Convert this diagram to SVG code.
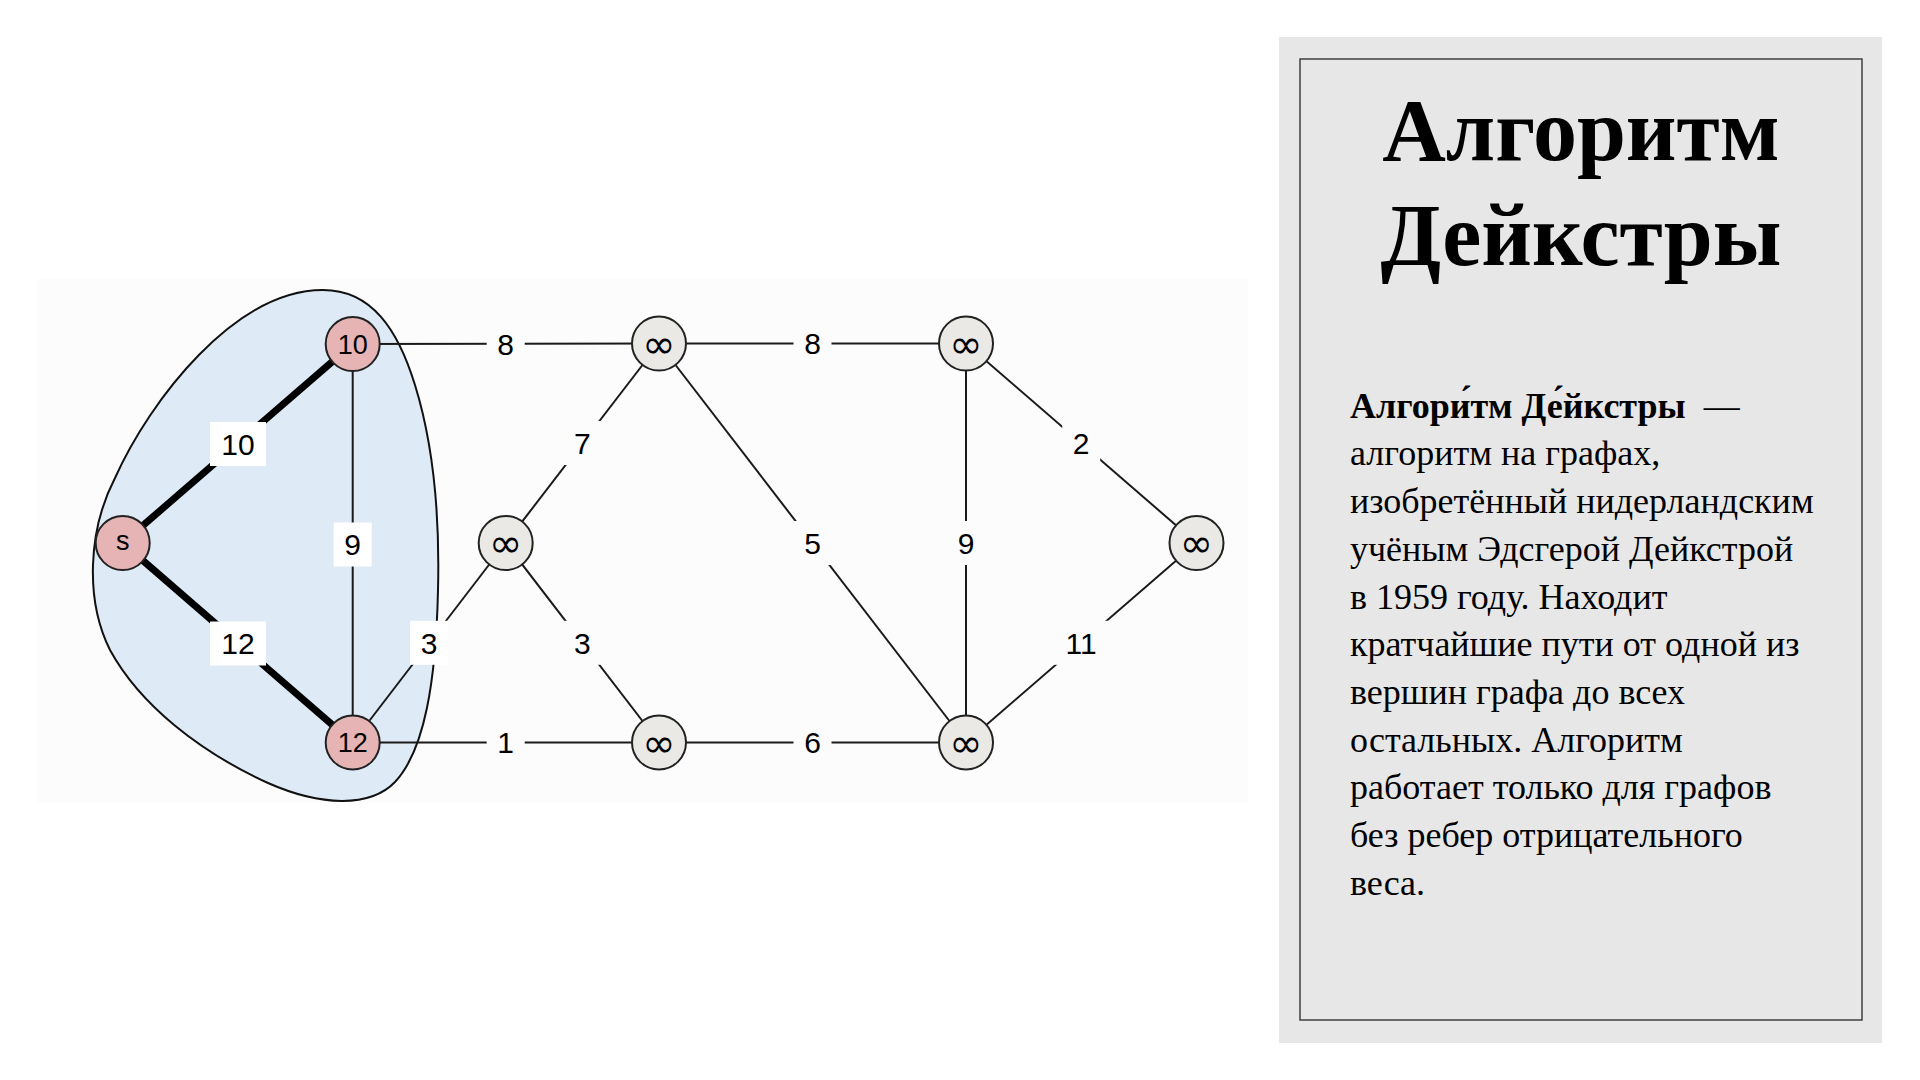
<svg xmlns="http://www.w3.org/2000/svg" width="1920" height="1080" viewBox="0 0 1920 1080">
<style>
.edge{stroke:#1a1a1a;stroke-width:2;fill:none}
.thick{stroke:#000;stroke-width:7;fill:none}
.lbox{fill:#ffffff}
.obox{fill:#fcfcfc}
.lbl{font-family:"Liberation Sans",Arial,sans-serif;font-size:30px;fill:#000;text-anchor:middle}
.nlbl{font-family:"Liberation Sans",Arial,sans-serif;font-size:27px;fill:#000;text-anchor:middle}
.inf{font-family:"DejaVu Sans",sans-serif;font-size:40px;fill:#000;text-anchor:middle}
.pink{fill:#e6b4b4;stroke:#222;stroke-width:2}
.gray{fill:#ebe9e5;stroke:#222;stroke-width:2}
.title{font-family:"Liberation Serif","Times New Roman",serif;font-size:88px;font-weight:bold;fill:#000;text-anchor:middle}
.body{font-family:"Liberation Serif","Times New Roman",serif;font-size:36px;fill:#000}
</style>
<rect x="0" y="0" width="1920" height="1080" fill="#ffffff"/>
<rect x="37" y="279" width="1211" height="523" fill="#fcfcfc"/>
<g id="region">
<path d="M 323,290 C 372,290 398,330 415,385 C 432,440 440,510 438,590 C 436,680 425,750 395,782 C 370,808 320,806 268,783 C 200,752 140,705 110,650 C 85,600 88,530 115,478 C 150,400 235,290 323,290 Z" fill="#deeaf6" stroke="#111" stroke-width="2"/>
</g>
<g id="connectors">
<line class="thick" x1="122.7" y1="543" x2="352.7" y2="344"/>
<line class="thick" x1="122.7" y1="543" x2="352.7" y2="742.5"/>
<line class="edge" x1="352.7" y1="344" x2="352.7" y2="742.5"/>
<line class="edge" x1="352.7" y1="742.5" x2="505.7" y2="543"/>
<line class="edge" x1="352.7" y1="344" x2="659" y2="343.5"/>
<line class="edge" x1="505.7" y1="543" x2="659" y2="343.5"/>
<line class="edge" x1="505.7" y1="543" x2="659" y2="742.5"/>
<line class="edge" x1="352.7" y1="742.5" x2="659" y2="742.5"/>
<line class="edge" x1="659" y1="343.5" x2="966" y2="343.5"/>
<line class="edge" x1="659" y1="343.5" x2="966" y2="742.5"/>
<line class="edge" x1="659" y1="742.5" x2="966" y2="742.5"/>
<line class="edge" x1="966" y1="343.5" x2="966" y2="742.5"/>
<line class="edge" x1="966" y1="343.5" x2="1196.5" y2="543"/>
<line class="edge" x1="966" y1="742.5" x2="1196.5" y2="543"/>
<g id="edge-labels">
<rect class="lbox" x="210" y="422" width="56" height="44"/><text class="lbl" x="238" y="454.7">10</text>
<rect class="lbox" x="210" y="621.5" width="56" height="44"/><text class="lbl" x="238" y="654.2">12</text>
<rect class="lbox" x="333.7" y="522.5" width="38" height="44"/><text class="lbl" x="352.7" y="555.2">9</text>
<rect class="lbox" x="410" y="620.8" width="38" height="44"/><text class="lbl" x="429" y="653.5">3</text>
<rect class="obox" x="486.7" y="322" width="38" height="44"/><text class="lbl" x="505.7" y="354.7">8</text>
<rect class="obox" x="563.4" y="421" width="38" height="44"/><text class="lbl" x="582.4" y="453.7">7</text>
<rect class="obox" x="563.4" y="620.8" width="38" height="44"/><text class="lbl" x="582.4" y="653.5">3</text>
<rect class="obox" x="486.7" y="720.5" width="38" height="44"/><text class="lbl" x="505.7" y="753.2">1</text>
<rect class="obox" x="793.5" y="321.5" width="38" height="44"/><text class="lbl" x="812.5" y="354.2">8</text>
<rect class="obox" x="793.5" y="521" width="38" height="44"/><text class="lbl" x="812.5" y="553.7">5</text>
<rect class="obox" x="793.5" y="720.5" width="38" height="44"/><text class="lbl" x="812.5" y="753.2">6</text>
<rect class="obox" x="947" y="521" width="38" height="44"/><text class="lbl" x="966" y="553.7">9</text>
<rect class="obox" x="1062.2" y="421.3" width="38" height="44"/><text class="lbl" x="1081.2" y="454">2</text>
<rect class="obox" x="1053.2" y="620.8" width="56" height="44"/><text class="lbl" x="1081.2" y="653.5">11</text>
</g>
</g>
<g id="node-s"><circle class="pink" cx="122.7" cy="543" r="27"/><text class="nlbl" x="122.7" y="550">s</text></g>
<g id="node-10"><circle class="pink" cx="352.7" cy="344" r="27"/><text class="nlbl" x="352.7" y="353.7">10</text></g>
<g id="node-12"><circle class="pink" cx="352.7" cy="742.5" r="27"/><text class="nlbl" x="352.7" y="752.2">12</text></g>
<g id="node-a"><circle class="gray" cx="505.7" cy="543" r="27"/><text class="inf" x="505.7" y="557">∞</text></g>
<g id="node-b"><circle class="gray" cx="659" cy="343.5" r="27"/><text class="inf" x="659" y="357.5">∞</text></g>
<g id="node-c"><circle class="gray" cx="659" cy="742.5" r="27"/><text class="inf" x="659" y="756.5">∞</text></g>
<g id="node-d"><circle class="gray" cx="966" cy="343.5" r="27"/><text class="inf" x="966" y="357.5">∞</text></g>
<g id="node-e"><circle class="gray" cx="966" cy="742.5" r="27"/><text class="inf" x="966" y="756.5">∞</text></g>
<g id="node-f"><circle class="gray" cx="1196.5" cy="543" r="27"/><text class="inf" x="1196.5" y="557">∞</text></g>
<g id="panel">
<rect x="1279" y="37" width="603" height="1006" fill="#e7e7e7"/>
<rect x="1300" y="59" width="562" height="961" fill="none" stroke="#404040" stroke-width="1.5"/>
<text class="title" x="1581" y="160">Алгоритм</text>
<text class="title" x="1581" y="265">Дейкстры</text>
<text class="body" x="1350" y="417.7" xml:space="preserve"><tspan font-weight="bold">Алгори́тм Де́йкстры</tspan>  —</text>
<text class="body" x="1350" y="465.4">алгоритм на графах,</text>
<text class="body" x="1350" y="513.1">изобретённый нидерландским</text>
<text class="body" x="1350" y="560.8">учёным Эдсгерой Дейкстрой</text>
<text class="body" x="1350" y="608.5">в 1959 году. Находит</text>
<text class="body" x="1350" y="656.2">кратчайшие пути от одной из</text>
<text class="body" x="1350" y="703.9">вершин графа до всех</text>
<text class="body" x="1350" y="751.6">остальных. Алгоритм</text>
<text class="body" x="1350" y="799.3">работает только для графов</text>
<text class="body" x="1350" y="847">без ребер отрицательного</text>
<text class="body" x="1350" y="894.7">веса.</text>
</g>
</svg>
